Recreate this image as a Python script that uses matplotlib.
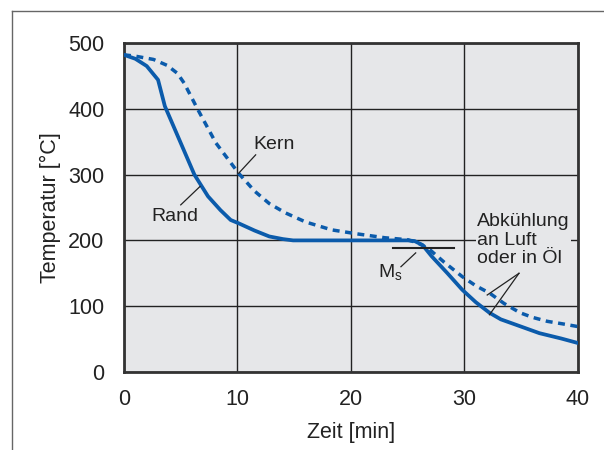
import matplotlib
matplotlib.use("Agg")
import matplotlib.pyplot as plt
from matplotlib.lines import Line2D

plt.rcParams['font.family'] = ['Liberation Sans', 'DejaVu Sans']

# Rand (solid) and Kern (dashed) cooling curves
rand_t = [0, 1, 2, 3, 3.6, 5, 6.2, 7.4, 8.5, 9.4, 10.1, 11.5, 12.8, 14, 14.9, 20, 25, 25.6,
          26.3, 27.1, 28.5, 29.8, 31, 32.2, 33.2, 34.5, 36.6, 38.5, 40]
rand_T = [482, 476, 465, 444, 404, 348, 300, 267, 246, 231, 226, 215, 206, 202, 200, 200, 200, 199,
          193, 176, 150, 125, 106, 90, 80, 72, 59, 51, 44]
kern_t = [0, 1, 2.6, 3.8, 4.7, 5.3, 6.5, 8.1, 10.1, 11.5, 12.8, 14.2, 16, 18.3, 20.5, 23, 25,
          25.9, 26.8, 28.2, 29.8, 31, 32.2, 33.5, 34.9, 36, 37.3, 38.7, 40]
kern_T = [482, 480, 475, 466, 454, 439, 399, 348, 302, 275, 256, 242, 228, 216, 210, 204, 201,
          196, 188, 167, 145, 131, 120, 104, 90, 83, 77, 73, 69]

xticks = [0, 10, 20, 30, 40]
yticks = [0, 100, 200, 300, 400, 500]

blue = '#0b5bab'
dark = '#222222'
bg = '#e6e7e9'

fig = plt.figure(figsize=(6.04, 4.5), dpi=100)
ax = fig.add_axes([124 / 604, 1 - 372 / 450, 454 / 604, 329 / 450])
ax.set_facecolor(bg)

ax.plot(rand_t, rand_T, color=blue, lw=2.7, zorder=3)
ax.plot(kern_t, kern_T, color=blue, lw=2.5, ls=(0, (2.0, 1.6)), zorder=3)

ax.set_xlim(0, 40)
ax.set_ylim(0, 500)
ax.set_xticks(xticks)
ax.set_yticks(yticks)
ax.grid(True, color=dark, lw=1.0, zorder=1)
ax.set_axisbelow(True)
ax.tick_params(length=0, labelsize=15.5, colors=dark)
ax.tick_params(axis='x', pad=12)
ax.tick_params(axis='y', pad=14)
for s in ax.spines.values():
    s.set_linewidth(2.0)
    s.set_color('#333333')
ax.set_xlabel('Zeit [min]', fontsize=15.5, color=dark, labelpad=9)
ax.set_ylabel('Temperatur [°C]', fontsize=15.5, color=dark, labelpad=5)

# annotations
ax.text(13.2, 345, 'Kern', fontsize=14, ha='center', va='center', color=dark)
ax.plot([11.6, 10.1], [330, 302], color=dark, lw=0.9, zorder=4)
ax.text(4.5, 237, 'Rand', fontsize=14, ha='center', va='center', color=dark)
ax.plot([5.0, 6.7], [254, 282], color=dark, lw=0.9, zorder=4)

ax.plot([23.7, 29.1], [188, 188], color=dark, lw=1.5, zorder=4)
ax.text(23.5, 150, r'M$_\mathregular{s}$', fontsize=14, ha='center', va='center', color=dark)
ax.plot([24.4, 25.7], [160, 181], color=dark, lw=0.9, zorder=4)

ax.text(31.1, 200, 'Abkühlung\nan Luft\noder in Öl', fontsize=14, ha='left', va='center',
        color=dark, linespacing=1.12, zorder=5,
        bbox=dict(facecolor=bg, edgecolor='none', pad=1))
ax.plot([34.8, 32.0], [150, 117], color=dark, lw=0.9, zorder=4)
ax.plot([34.8, 32.2], [150, 87], color=dark, lw=0.9, zorder=4)

# outer frame (top and left)
fig.add_artist(Line2D([12 / 604, 12 / 604], [0, 1 - 11 / 450], color='#666666', lw=1.0))
fig.add_artist(Line2D([12 / 604, 1], [1 - 11 / 450, 1 - 11 / 450], color='#666666', lw=1.0))

fig.savefig('out.png', dpi=100)
